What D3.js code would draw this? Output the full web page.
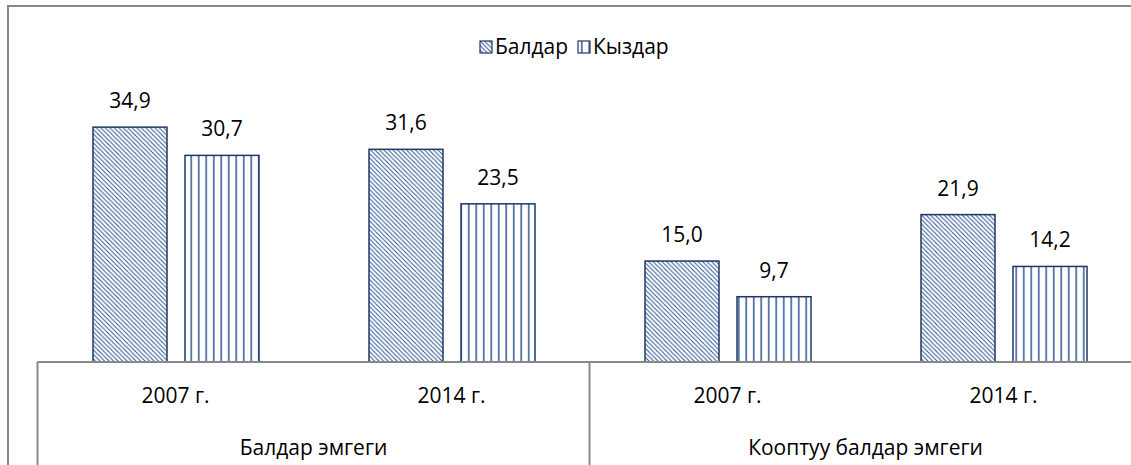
<!DOCTYPE html>
<html>
<head>
<meta charset="utf-8">
<script src="https://cdnjs.cloudflare.com/ajax/libs/d3/7.8.5/d3.min.js"></script>
<style>
  body { margin: 0; background: #fff; }
  text { font-family: "Open Sans", "Noto Sans", sans-serif; fill: #000; }
</style>
</head>
<body>
<div id="chart"></div>
<script>
// data
var groups = ["Балдар эмгеги", "Кооптуу балдар эмгеги"];
var years = ["2007 г.", "2014 г."];
var seriesNames = ["Балдар", "Кыздар"];
var boys = [34.9, 31.6, 15.0, 21.9];
var girls = [30.7, 23.5, 9.7, 14.2];

var width = 1131,
    height = 465;

var svg = d3.select("#chart").append("svg")
    .attr("width", width)
    .attr("height", height);

// patterns for the two series
var defs = svg.append("defs");
var pDiag = defs.append("pattern")
    .attr("id", "diag")
    .attr("patternUnits", "userSpaceOnUse")
    .attr("width", 4.5).attr("height", 4.5);
pDiag.append("rect").attr("width", 4.5).attr("height", 4.5).attr("fill", "#fff");
pDiag.append("path")
    .attr("d", "M-1,-1 L5.5,5.5 M-1,3.5 L1,5.5 M3.5,-1 L5.5,1")
    .attr("stroke", "#2f5597").attr("stroke-width", 1);

var pVert = defs.append("pattern")
    .attr("id", "vert")
    .attr("patternUnits", "userSpaceOnUse")
    .attr("width", 7.5).attr("height", 10);
pVert.append("rect").attr("width", 7.5).attr("height", 10).attr("fill", "#fff");
pVert.append("line")
    .attr("x1", 3.75).attr("x2", 3.75).attr("y1", 0).attr("y2", 10)
    .attr("stroke", "#2f5597").attr("stroke-width", 1.5);

var fills = ["url(#diag)", "url(#vert)"];

// outer frame
svg.append("path")
    .attr("d", "M8," + height + " V6 H" + width)
    .attr("fill", "none")
    .attr("stroke", "#888")
    .attr("stroke-width", 2);

var baseY = 362,
    left = 37.5,
    bandW = 276;

var cats = d3.range(boys.length);
var x0 = d3.scaleBand()
    .domain(cats)
    .range([left, left + bandW * cats.length]);

var x1 = d3.scaleBand()
    .domain([0, 1])
    .range([55.5, 55.5 + 74 * 2 + 18])
    .paddingInner(18 / 92);

var y = d3.scaleLinear()
    .domain([0, 40])
    .range([baseY, baseY - 40 * 6.73]);

var series = [boys, girls];
var fmt = function (v) { return d3.format(".1f")(v).replace(".", ","); };

series.forEach(function (vals, s) {
    var g = svg.append("g");
    g.selectAll("rect")
        .data(vals)
        .enter().append("rect")
        .attr("x", function (d, i) { return x0(i) + x1(s); })
        .attr("y", function (d) { return y(d); })
        .attr("width", x1.bandwidth())
        .attr("height", function (d) { return baseY - y(d); })
        .attr("fill", fills[s])
        .attr("stroke", "#1f3864")
        .attr("stroke-width", 1.5);

    g.selectAll("text")
        .data(vals)
        .enter().append("text")
        .attr("x", function (d, i) { return x0(i) + x1(s) + x1.bandwidth() / 2; })
        .attr("y", function (d) { return y(d) - 19; })
        .attr("text-anchor", "middle")
        .style("font-size", "21px")
        .text(fmt);
});

// axis lines
svg.append("line")
    .attr("x1", left).attr("x2", width)
    .attr("y1", baseY).attr("y2", baseY)
    .attr("stroke", "#888").attr("stroke-width", 2);

groups.forEach(function (gName, gi) {
    var gx = x0(gi * 2);
    svg.append("line")
        .attr("x1", gx).attr("x2", gx)
        .attr("y1", baseY).attr("y2", height)
        .attr("stroke", "#888").attr("stroke-width", 2);
    svg.append("text")
        .attr("x", gx + bandW)
        .attr("y", 455)
        .attr("text-anchor", "middle")
        .style("font-size", "21px")
        .text(gName);
});

cats.forEach(function (i) {
    svg.append("text")
        .attr("x", x0(i) + bandW / 2)
        .attr("y", 403)
        .attr("text-anchor", "middle")
        .style("font-size", "21px")
        .text(years[i % 2]);
});

// legend
var legend = svg.selectAll(".legend")
    .data(seriesNames)
    .enter().append("g")
    .attr("class", "legend")
    .attr("transform", function (d, i) { return "translate(" + (480 + i * 98) + ",41)"; });

legend.append("rect")
    .attr("width", 12).attr("height", 12)
    .attr("fill", function (d, i) { return fills[i]; })
    .attr("stroke", "#1f3864")
    .attr("stroke-width", 1.2);

legend.append("text")
    .attr("x", 15)
    .attr("y", 13)
    .style("font-size", "21px")
    .text(function (d) { return d; });
</script>
</body>
</html>
